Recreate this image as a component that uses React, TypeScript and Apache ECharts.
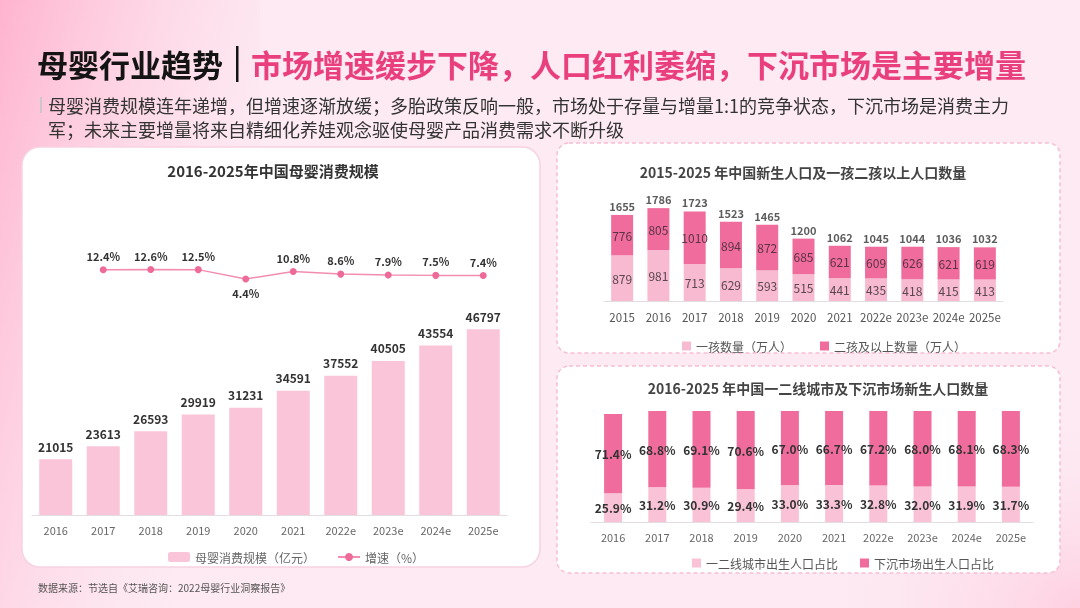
import React, { useEffect, useRef } from 'react';
import * as echarts from 'echarts';

const FONT = '"Noto Sans CJK SC", "Noto Sans", sans-serif';

const scaleYears = ['2016', '2017', '2018', '2019', '2020', '2021', '2022e', '2023e', '2024e', '2025e'];
const scaleValues = [21015, 23613, 26593, 29919, 31231, 34591, 37552, 40505, 43554, 46797];
const growthValues: (number | null)[] = [null, 12.4, 12.6, 12.5, 4.4, 10.8, 8.6, 7.9, 7.5, 7.4];

const birthYears = ['2015', '2016', '2017', '2018', '2019', '2020', '2021', '2022e', '2023e', '2024e', '2025e'];
const firstChild = [879, 981, 713, 629, 593, 515, 441, 435, 418, 415, 413];
const secondPlus = [776, 805, 1010, 894, 872, 685, 621, 609, 626, 621, 619];
const birthTotals = [1655, 1786, 1723, 1523, 1465, 1200, 1062, 1045, 1044, 1036, 1032];

const cityYears = ['2016', '2017', '2018', '2019', '2020', '2021', '2022e', '2023e', '2024e', '2025e'];
const tier12Share = [25.9, 31.2, 30.9, 29.4, 33.0, 33.3, 32.8, 32.0, 31.9, 31.7];
const lowerTierShare = [71.4, 68.8, 69.1, 70.6, 67.0, 66.7, 67.2, 68.0, 68.1, 68.3];

const mainTitle = '母婴行业趋势';
const subTitle = '市场增速缓步下降，人口红利萎缩，下沉市场是主要增量';
const summaryLine1 = '母婴消费规模连年递增，但增速逐渐放缓；多胎政策反响一般，市场处于存量与增量1:1的竞争状态，下沉市场是消费主力';
const summaryLine2 = '军；未来主要增量将来自精细化养娃观念驱使母婴产品消费需求不断升级';
const chartTitle1 = '2016-2025年中国母婴消费规模';
const chartTitle2 = '2015-2025 年中国新生人口及一孩二孩以上人口数量';
const chartTitle3 = '2016-2025 年中国一二线城市及下沉市场新生人口数量';
const sourceText = '数据来源：节选自《艾瑞咨询：2022母婴行业洞察报告》';

const S1 = '母婴消费规模（亿元）';
const S2 = '增速（%）';
const S3 = '一孩数量（万人）';
const S4 = '二孩及以上数量（万人）';
const S5 = '一二线城市出生人口占比';
const S6 = '下沉市场出生人口占比';

export default function App() {
  const ref = useRef<HTMLDivElement>(null);
  useEffect(() => {
    if (!ref.current) return;
    const chart = echarts.init(ref.current, undefined, { renderer: 'svg' });
    const hiddenY = { type: 'value', show: false, splitLine: { show: false } };
    const catAxis = (gridIndex: number, data: string[], margin: number, color: string, size: number) => ({
      type: 'category',
      gridIndex,
      data,
      axisTick: { show: false },
      axisLine: { lineStyle: { color: '#e3dde0', width: 1 } },
      axisLabel: { color, fontSize: size, margin, interval: 0, fontFamily: FONT },
    });
    chart.setOption({
      animation: false,
      textStyle: { fontFamily: FONT },
      graphic: [
        { type: 'rect', z: -20, shape: { x: 0, y: 0, width: 1080, height: 608 }, style: { fill: '#fdeaf3' } },
        {
          type: 'rect', z: -19, shape: { x: 0, y: 0, width: 260, height: 608 },
          style: {
            fill: new echarts.graphic.LinearGradient(0, 0, 1, 0.6, [
              { offset: 0, color: 'rgba(255,170,200,0.85)' },
              { offset: 0.5, color: 'rgba(255,190,212,0.35)' },
              { offset: 1, color: 'rgba(253,234,243,0)' },
            ]),
          },
        },
        {
          type: 'rect', z: -19, shape: { x: 800, y: 400, width: 280, height: 208 },
          style: {
            fill: new echarts.graphic.RadialGradient(1, 1, 1, [
              { offset: 0, color: 'rgba(255,190,212,0.6)' },
              { offset: 1, color: 'rgba(253,234,243,0)' },
            ]),
          },
        },
        // cards
        { type: 'rect', z: -10, shape: { x: 22, y: 147, width: 518, height: 420, r: 18 }, style: { fill: '#ffffff', stroke: '#f7d2e1', lineWidth: 1.5 } },
        { type: 'rect', z: -10, shape: { x: 557, y: 143, width: 503, height: 210, r: 12 }, style: { fill: '#ffffff', stroke: '#f6bfd5', lineWidth: 1.5, lineDash: [4, 3] } },
        { type: 'rect', z: -10, shape: { x: 557, y: 366, width: 503, height: 207, r: 12 }, style: { fill: '#ffffff', stroke: '#f6bfd5', lineWidth: 1.5, lineDash: [4, 3] } },
        // main title
        { type: 'text', z: 50, style: { x: 37, y: 63, text: mainTitle, fill: '#141414', fontSize: 31, fontWeight: 'bold', fontFamily: FONT, textVerticalAlign: 'middle' } },
        { type: 'rect', z: 50, shape: { x: 236, y: 46, width: 2.5, height: 36 }, style: { fill: '#141414' } },
        { type: 'text', z: 50, style: { x: 251, y: 63, text: subTitle, fill: '#ea3f7d', fontSize: 31, fontWeight: 'bold', fontFamily: FONT, textVerticalAlign: 'middle' } },
        { type: 'rect', z: 50, shape: { x: 40, y: 97, width: 2, height: 16 }, style: { fill: '#cfc6ca' } },
        { type: 'text', z: 50, style: { x: 48, y: 105, text: summaryLine1, fill: '#333333', fontSize: 18, fontFamily: FONT, textVerticalAlign: 'middle' } },
        { type: 'text', z: 50, style: { x: 48, y: 129, text: summaryLine2, fill: '#333333', fontSize: 18, fontFamily: FONT, textVerticalAlign: 'middle' } },
        // chart titles
        { type: 'text', z: 50, style: { x: 273, y: 170, text: chartTitle1, fill: '#333333', fontSize: 15, fontWeight: 'bold', fontFamily: FONT, textAlign: 'center', textVerticalAlign: 'middle' } },
        { type: 'text', z: 50, style: { x: 803, y: 172, text: chartTitle2, fill: '#444444', fontSize: 14, fontWeight: 'bold', fontFamily: FONT, textAlign: 'center', textVerticalAlign: 'middle' } },
        { type: 'text', z: 50, style: { x: 818, y: 388, text: chartTitle3, fill: '#444444', fontSize: 14, fontWeight: 'bold', fontFamily: FONT, textAlign: 'center', textVerticalAlign: 'middle' } },
        { type: 'text', z: 50, style: { x: 38, y: 587, text: sourceText, fill: '#555555', fontSize: 10, fontFamily: FONT, textVerticalAlign: 'middle' } },
      ],
      grid: [
        { left: 32, right: 573, top: 313, bottom: 93 },
        { left: 32, right: 573, top: 261, bottom: 324 },
        { left: 604, right: 77, top: 197, bottom: 307 },
        { left: 591, right: 47, top: 411, bottom: 86 },
      ],
      xAxis: [
        catAxis(0, scaleYears, 9, '#666666', 11),
        { type: 'category', gridIndex: 1, data: scaleYears, show: false },
        catAxis(2, birthYears, 10, '#555555', 11.5),
        catAxis(3, cityYears, 9, '#666666', 11),
      ],
      yAxis: [
        { ...hiddenY, gridIndex: 0, min: 10000, max: 50000 },
        { ...hiddenY, gridIndex: 1, min: 0, max: 20 },
        { ...hiddenY, gridIndex: 2, min: 0, max: 2000 },
        { ...hiddenY, gridIndex: 3, min: 0, max: 100 },
      ],
      legend: [
        {
          data: [S1, S2], left: 163, top: 546, itemWidth: 22, itemHeight: 10, itemGap: 22,
          textStyle: { color: '#666666', fontSize: 12, fontFamily: FONT },
        },
        {
          data: [S3, S4], left: 677, top: 335, itemWidth: 9, itemHeight: 9, itemGap: 28, icon: 'rect',
          textStyle: { color: '#555555', fontSize: 12, fontFamily: FONT },
        },
        {
          data: [S5, S6], left: 687, top: 552, itemWidth: 9, itemHeight: 9, itemGap: 22, icon: 'rect',
          textStyle: { color: '#555555', fontSize: 12, fontFamily: FONT },
        },
      ],
      series: [
        {
          name: S1, type: 'bar', xAxisIndex: 0, yAxisIndex: 0, data: scaleValues, barWidth: 33,
          itemStyle: { color: '#fbc5d9' },
          label: { show: true, position: 'top', distance: 7, color: '#333333', fontSize: 12, fontWeight: 'bold' },
        },
        {
          name: S2, type: 'line', xAxisIndex: 1, yAxisIndex: 1,
          data: growthValues.map((v) => (v === 4.4 ? { value: v, label: { position: 'bottom' } } : v)),
          symbol: 'circle', symbolSize: 7,
          lineStyle: { color: '#f28db0', width: 1.5 },
          itemStyle: { color: '#ee6a98' },
          label: { show: true, position: 'top', color: '#333333', fontSize: 11, fontWeight: 'bold', formatter: '{c}%' },
        },
        {
          name: S3, type: 'bar', stack: 'birth', xAxisIndex: 2, yAxisIndex: 2, data: firstChild, barWidth: 22,
          itemStyle: { color: '#f8bad0' },
          label: { show: true, position: 'inside', color: '#5a4650', fontSize: 12 },
        },
        {
          name: S4, type: 'bar', stack: 'birth', xAxisIndex: 2, yAxisIndex: 2, data: secondPlus, barWidth: 22,
          itemStyle: { color: '#f06c9c' },
          label: { show: true, position: 'inside', color: '#5a3446', fontSize: 12 },
        },
        {
          name: 'total', type: 'scatter', xAxisIndex: 2, yAxisIndex: 2, data: birthTotals,
          symbolSize: 1, itemStyle: { color: 'rgba(0,0,0,0)' }, silent: true,
          label: { show: true, position: 'top', distance: 3, color: '#333333', fontSize: 11, fontWeight: 'bold' },
        },
        {
          name: S5, type: 'bar', stack: 'city', xAxisIndex: 3, yAxisIndex: 3, data: tier12Share, barWidth: 18,
          itemStyle: { color: '#f9c2d6' },
          label: { show: true, position: 'inside', color: '#333333', fontSize: 12, fontWeight: 'bold', formatter: (p: any) => p.value.toFixed(1) + '%' },
        },
        {
          name: S6, type: 'bar', stack: 'city', xAxisIndex: 3, yAxisIndex: 3, data: lowerTierShare, barWidth: 18,
          itemStyle: { color: '#f06c9c' },
          label: { show: true, position: 'inside', color: '#333333', fontSize: 12, fontWeight: 'bold', formatter: (p: any) => p.value.toFixed(1) + '%' },
        },
      ],
    });
    return () => chart.dispose();
  }, []);
  return <div ref={ref} style={{ position: 'fixed', left: 0, top: 0, width: 1080, height: 608 }} />;
}
